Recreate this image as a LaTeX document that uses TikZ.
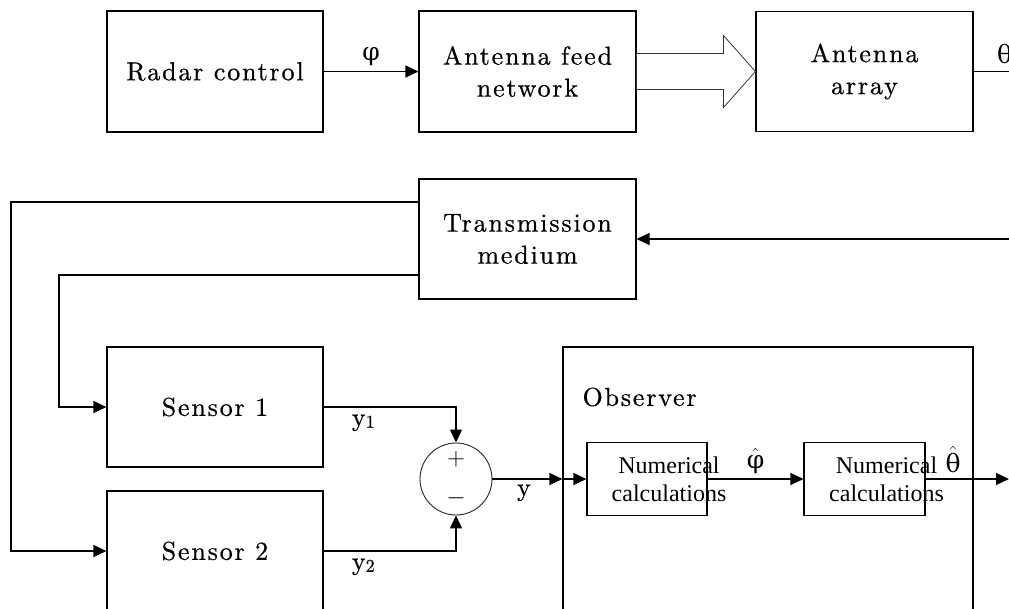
\documentclass[tikz,border=0pt]{standalone}
\usepackage{fontspec}
\usepackage{amsmath}
\usetikzlibrary{arrows.meta,positioning,calc}
\newfontfamily\numfont{Liberation Serif}
\newfontfamily\greekfont{DejaVu Serif}
\newfontfamily\widefont{lmroman10-regular.otf}[LetterSpace=7, FakeBold=0.6]
\newcommand{\boxfont}{\widefont\fontsize{26}{32}\selectfont}
\tikzset{
  block/.style={draw, line width=1.1pt, align=center, inner sep=0pt, font=\boxfont},
  numbox/.style={draw, line width=1.1pt, minimum width=120pt, minimum height=73pt, inner sep=0pt},
  numtxt/.style={align=center, inner sep=0pt, font=\numfont\fontsize{24}{28}\selectfont},
  summer/.style={draw=black!85, circle, line width=0.9pt, minimum size=72pt, inner sep=0pt},
  sig/.style={inner sep=1pt, font=\boxfont},
  greek/.style={inner sep=1pt, font=\greekfont\fontsize{25}{28}\selectfont},
  wire/.style={line width=1.1pt},
  arrow/.style={wire, -{Triangle[length=13pt, width=12pt]}}
}

\begin{document}
\begin{tikzpicture}[x=1pt, y=-1pt]
    \useasboundingbox (0,0) rectangle (1009,609);
    \clip (0,0) rectangle (1009,609);
    % Top row
    \node[block, minimum width=216pt, minimum height=121pt] (radar) at (215,71.5) {Radar control};
    \node[block, minimum width=217pt, minimum height=121pt] (feed) at (527.5,71.5) {Antenna feed\\network};
    \node[block, minimum width=217pt, minimum height=120pt] (array) at (864.5,71.5) {Antenna\\array};
    % Medium and sensors
    \node[block, minimum width=217pt, minimum height=120pt] (medium) at (527.5,239) {Transmission\\medium};
    \node[block, minimum width=216pt, minimum height=120pt] (sens1) at (215,407) {Sensor 1};
    \node[block, minimum width=216pt, minimum height=120pt] (sens2) at (215,551) {Sensor 2};
    \node[summer] (sum) at (456,479) {};
    \node[sig] (plus) at ([yshift=20pt]sum.center) {$+$};
    \node[sig] (minus) at ([yshift=-19pt]sum.center) {$-$};
    % Observer
    \node[draw, wire, minimum width=410pt, minimum height=353pt, inner sep=0pt] (obs) at (768,523.5) {};
    \node[block, draw=none, anchor=west] (obslabel) at (582,397) {Observer};
    \node[numbox] (num1) at (647,479) {};
    \node[numbox, minimum width=121pt] (num2) at (864.5,479) {};
    \node[numtxt] (num1txt) at ([xshift=22pt]num1.center) {Numerical\\calculations};
    \node[numtxt] (num2txt) at ([xshift=22pt]num2.center) {Numerical\\calculations};
    % Free ends
    \coordinate (thetaout) at (1009,71.5);
    \coordinate (echo) at (1009,239);
    \coordinate (outer) at (11,202);
    \coordinate (inner) at (59,275);
    \coordinate (estout) at (1009,479);
    % Connectors
    \draw[arrow] (radar) -- node[greek, above=4pt] (phi) {φ} (feed);
    \draw[fill=white, line width=0.8pt, draw=black!80]
      ($(feed.east)+(0,-18)$) -- ($(array.west)+(-32,-18)$) -- ($(array.west)+(-32,-36)$)
      -- (array.west) -- ($(array.west)+(-32,36)$) -- ($(array.west)+(-32,18)$)
      -- ($(feed.east)+(0,18)$) -- cycle;
    \draw[wire] (array.east) -- node[greek, pos=0.88, above=6pt] (theta) {θ} (thetaout);
    \draw[arrow] (echo) -- (medium.east);
    \draw[arrow] (medium.west |- outer) -- (outer) |- (sens2.west);
    \draw[arrow] (medium.west |- inner) -- (inner) |- (sens1.west);
    \draw[arrow] (sens1.east) -| node[sig, pos=0.15, below=6pt] (y1) {y\raisebox{-2pt}{\fontsize{18}{20}\selectfont 1}} (sum.north);
    \draw[arrow] (sens2.east) -| node[sig, pos=0.15, below=6pt] (y2) {y\raisebox{-2pt}{\fontsize{18}{20}\selectfont 2}} (sum.south);
    \draw[arrow] (sum.east) -- node[sig, pos=0.45, below=4pt] (ylab) {y} (sum.east -| obs.west);
    \draw[arrow] (sum.east -| obs.west) -- (num1.west);
    \draw[arrow] (num1) -- node[greek, above=4pt] (phihat) {$\hat{\text{\greekfont φ}}$} (num2);
    \draw[arrow] (num2.east) -- node[greek, pos=0.33, above=5pt] (thetahat) {$\hat{\text{\greekfont θ}}$} (estout);
\end{tikzpicture}
\end{document}
